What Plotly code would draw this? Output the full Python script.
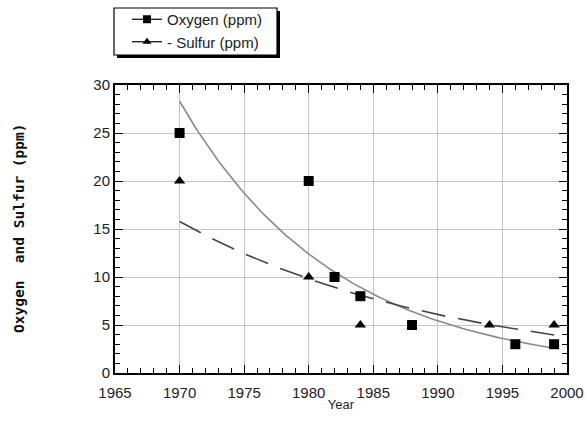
import numpy as np
import plotly.graph_objects as go

# Data
oxygen_years = [1970, 1980, 1982, 1984, 1988, 1996, 1999]
oxygen_ppm = [25, 20, 10, 8, 5, 3, 3]
sulfur_years = [1970, 1980, 1984, 1994, 1999]
sulfur_ppm = [20, 10, 5, 5, 5]

x_range = [1965, 2000]
y_range = [0, 30]


def exp_fit(xs, ys):
    xs = np.asarray(xs, float)
    b, a = np.polyfit(xs, np.log(np.asarray(ys, float)), 1)
    xf = np.linspace(xs.min(), xs.max(), 120)
    return xf, np.exp(a + b * xf)


ox_fx, ox_fy = exp_fit(oxygen_years, oxygen_ppm)
su_fx, su_fy = exp_fit(sulfur_years, sulfur_ppm)

fig = go.Figure()

# Fit curves
fig.add_trace(go.Scatter(x=ox_fx, y=ox_fy, mode="lines",
                         line=dict(color="#8a8a8a", width=1.6),
                         showlegend=False, hoverinfo="skip"))
fig.add_trace(go.Scatter(x=su_fx, y=su_fy, mode="lines",
                         line=dict(color="#444444", width=1.6, dash="24px,13px"),
                         showlegend=False, hoverinfo="skip"))

# Data markers
fig.add_trace(go.Scatter(x=oxygen_years, y=oxygen_ppm, mode="markers",
                         marker=dict(symbol="square", size=10, color="black"),
                         showlegend=False, name="Oxygen (ppm)"))
fig.add_trace(go.Scatter(x=sulfur_years, y=sulfur_ppm, mode="markers",
                         marker=dict(symbol="triangle-up", size=10, color="black"),
                         showlegend=False, name="Sulfur (ppm)"))

# Legend entries
fig.add_trace(go.Scatter(x=[None], y=[None], mode="lines+markers", name="Oxygen (ppm)",
                         line=dict(color="black", width=1.2),
                         marker=dict(symbol="square", size=8, color="black")))
fig.add_trace(go.Scatter(x=[None], y=[None], mode="lines+markers", name="- Sulfur (ppm)",
                         line=dict(color="black", width=1.2),
                         marker=dict(symbol="triangle-up", size=8, color="black")))

L, R, T, B = 115, 18, 85, 48
W, H = 585, 421
pw, ph = W - L - R, H - T - B

def px_to_paper_x(px):
    return (px - L) / pw

def px_to_paper_y(py):
    return (H - B - py) / ph

tickfont = dict(family="Liberation Sans, Arial, sans-serif", size=15, color="#222")

fig.update_layout(
    template="none",
    xaxis=dict(range=x_range, dtick=5, ticks="inside", ticklen=8, tickcolor="black", tickwidth=1,
               showline=True, mirror="allticks", linecolor="black", linewidth=2,
               showgrid=True, gridcolor="#c4c4c4", zeroline=False,
               tickfont=tickfont, ticklabelstandoff=5,
               title=dict(text="Year", standoff=0,
                          font=dict(family="Liberation Sans, Arial, sans-serif", size=13, color="#222")),
               minor=dict(ticks="inside", ticklen=5, tickcolor="black", dtick=1)),
    yaxis=dict(range=y_range, dtick=5, ticks="inside", ticklen=8, tickcolor="black", tickwidth=1,
               showline=True, mirror="allticks", linecolor="black", linewidth=2,
               showgrid=True, gridcolor="#c4c4c4", zeroline=False,
               tickfont=tickfont,
               minor=dict(ticks="inside", ticklen=5, tickcolor="black", dtick=1)),
)

# Legend box with shadow
fig.add_shape(type="rect", xref="paper", yref="paper",
              x0=px_to_paper_x(117), x1=px_to_paper_x(280),
              y0=px_to_paper_y(58), y1=px_to_paper_y(11),
              fillcolor="black", line=dict(width=0), layer="above")
fig.add_shape(type="rect", xref="paper", yref="paper",
              x0=px_to_paper_x(114), x1=px_to_paper_x(277),
              y0=px_to_paper_y(55), y1=px_to_paper_y(8),
              fillcolor="white", line=dict(width=1.2, color="black"), layer="above")

fig.add_annotation(text="<b>Oxygen  and Sulfur (ppm)</b>", textangle=-90,
                   xref="paper", yref="paper",
                   x=px_to_paper_x(19), y=px_to_paper_y(228),
                   xanchor="center", yanchor="middle", showarrow=False,
                   font=dict(family="DejaVu Sans Mono, monospace", size=14.5, color="#111"))

fig.update_layout(
    width=W, height=H,
    margin=dict(l=L, r=R, t=T, b=B, autoexpand=False),
    paper_bgcolor="white", plot_bgcolor="white",
    showlegend=True,
    legend=dict(x=px_to_paper_x(127), y=px_to_paper_y(3), xanchor="left", yanchor="top",
                bgcolor="rgba(0,0,0,0)", borderwidth=0,
                font=dict(family="Liberation Sans, Arial, sans-serif", size=15, color="#222"),
                tracegroupgap=0, itemwidth=30),
)

fig.write_html("out.html")
